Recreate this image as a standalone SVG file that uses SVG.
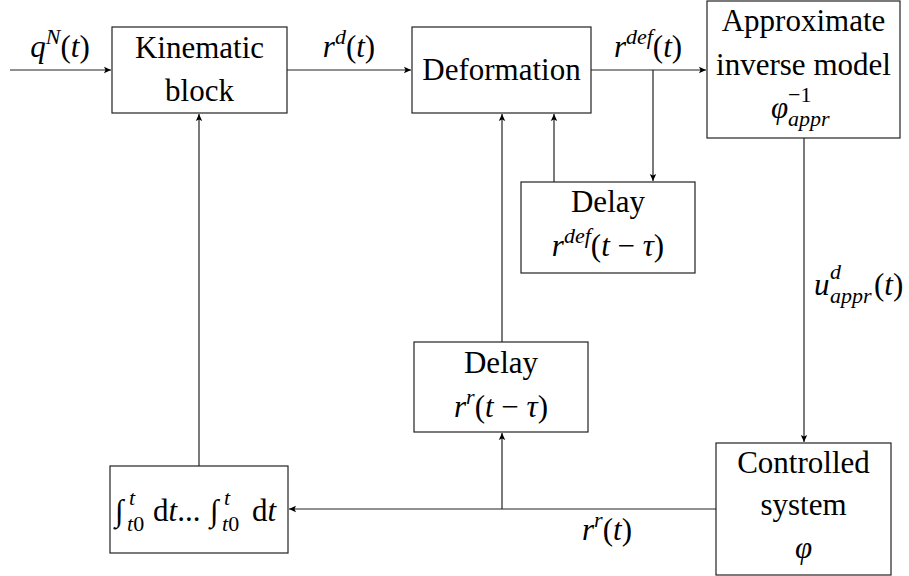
<svg xmlns="http://www.w3.org/2000/svg" width="909" height="576" viewBox="0 0 909 576">
<defs>
<style>
text{font-family:'Liberation Serif','DejaVu Serif',serif;font-size:31px;fill:#000}
.i{font-style:italic}
.s{font-size:22px}
.c{text-anchor:middle}
rect{fill:#fff;stroke:#222;stroke-width:1.2}
.w{fill:none;stroke:#222;stroke-width:1.2}
</style>
<marker id="ah" markerUnits="userSpaceOnUse" markerWidth="10" markerHeight="8" refX="7" refY="4" orient="auto">
<path d="M0,0.8 L7,4 L0,7.2 L1.5,4 Z" fill="#000"/>
</marker>
</defs>

<g id="connectors">
<path class="w" d="M10,70 H111" marker-end="url(#ah)"/>
<path class="w" d="M287,70 H411" marker-end="url(#ah)"/>
<path class="w" d="M591,70 H706" marker-end="url(#ah)"/>
<path class="w" d="M653,70 V181" marker-end="url(#ah)"/>
<path class="w" d="M554,182 V114" marker-end="url(#ah)"/>
<path class="w" d="M502,342 V114" marker-end="url(#ah)"/>
<path class="w" d="M804,138 V442" marker-end="url(#ah)"/>
<path class="w" d="M716,509 H289" marker-end="url(#ah)"/>
<path class="w" d="M502,509 V433" marker-end="url(#ah)"/>
<path class="w" d="M199,466 V114" marker-end="url(#ah)"/>
</g>

<g id="labels">
<text x="60" y="57" class="c"><tspan class="i">q</tspan><tspan class="s i" dy="-13">N</tspan><tspan dy="13">(</tspan><tspan class="i">t</tspan>)</text>
<text x="349" y="57" class="c"><tspan class="i">r</tspan><tspan class="s i" dy="-13">d</tspan><tspan dy="13">(</tspan><tspan class="i">t</tspan>)</text>
<text x="648" y="57" class="c"><tspan class="i">r</tspan><tspan class="s i" dy="-13">def</tspan><tspan dy="13">(</tspan><tspan class="i">t</tspan>)</text>
<text x="814" y="295" class="i">u</text>
<text x="830" y="279" class="s i">d</text>
<text x="830" y="303" class="s i">appr</text>
<text x="874" y="295">(<tspan class="i">t</tspan>)</text>
<text x="607" y="540" class="c"><tspan class="i">r</tspan><tspan class="s i" dy="-13">r</tspan><tspan dy="13">(</tspan><tspan class="i">t</tspan>)</text>
</g>

<g id="kinematic">
<rect x="112" y="27" width="175" height="86"/>
<text x="199.5" y="58" class="c">Kinematic</text>
<text x="199.5" y="101" class="c">block</text>
</g>

<g id="deformation">
<rect x="412" y="27" width="179" height="86"/>
<text x="501.5" y="80" class="c">Deformation</text>
</g>

<g id="approx">
<rect x="707" y="1" width="193" height="137"/>
<text x="803.5" y="31" class="c">Approximate</text>
<text x="803.5" y="75" class="c">inverse model</text>
<text x="771" y="118" class="i">φ</text>
<text x="788" y="102" class="s">−1</text>
<text x="788" y="126" class="s i">appr</text>
</g>

<g id="delay1">
<rect x="521" y="182" width="174" height="91"/>
<text x="608" y="212" class="c">Delay</text>
<text x="608" y="256" class="c"><tspan class="i">r</tspan><tspan class="s i" dy="-13">def</tspan><tspan dy="13">(</tspan><tspan class="i">t</tspan> − <tspan class="i">τ</tspan>)</text>
</g>

<g id="delay2">
<rect x="414" y="342" width="174" height="90"/>
<text x="501" y="373" class="c">Delay</text>
<text x="501" y="417" class="c"><tspan class="i">r</tspan><tspan class="s i" dy="-13">r</tspan><tspan dy="13">(</tspan><tspan class="i">t</tspan> − <tspan class="i">τ</tspan>)</text>
</g>

<g id="controlled">
<rect x="716" y="443" width="175" height="132"/>
<text x="803.5" y="473" class="c">Controlled</text>
<text x="803.5" y="515" class="c">system</text>
<text x="803.5" y="558" class="c i">φ</text>
</g>

<g id="integrator">
<rect x="110" y="466" width="178" height="87"/>
<text x="115" y="521">∫</text>
<text x="129" y="505" class="s i">t</text>
<text x="127" y="531" class="s"><tspan class="i">t</tspan>0</text>
<text x="153" y="521">d<tspan class="i">t</tspan>...</text>
<text x="210" y="521">∫</text>
<text x="224" y="505" class="s i">t</text>
<text x="222" y="531" class="s"><tspan class="i">t</tspan>0</text>
<text x="252" y="521">d<tspan class="i">t</tspan></text>
</g>
</svg>
